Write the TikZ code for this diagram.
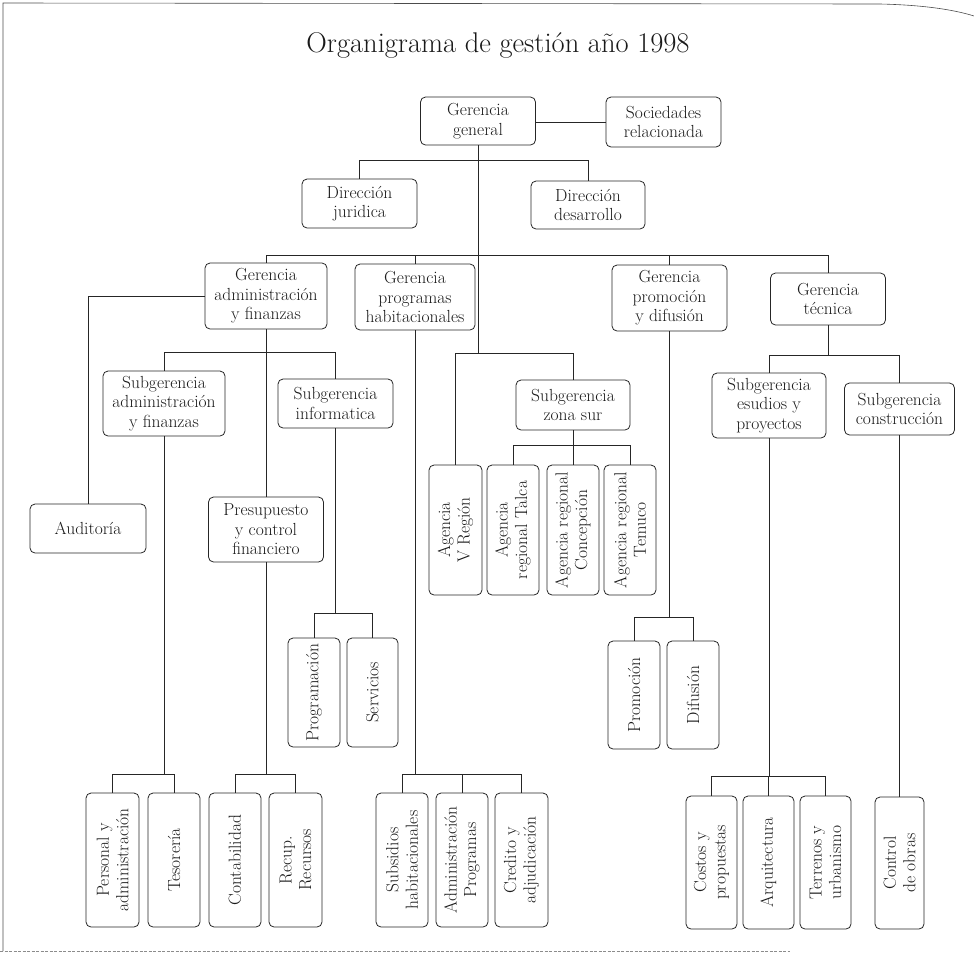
\documentclass[tikz,border=0pt]{standalone}
\newcommand\boxfont{\fontsize{17.5}{19.5}\selectfont}
\newcommand\titlefont{\fontsize{28.5}{32}\selectfont}
\tikzset{
  box/.style={draw=black!85, line width=0.8pt, rounded corners=5pt, align=center, inner sep=1pt, font=\boxfont, text=black!90},
  vtext/.style={rotate=90, align=center, inner sep=0pt, font=\boxfont, text=black!90},
  link/.style={draw=black!85, line width=0.8pt},
  framel/.style={draw=black!70, line width=0.6pt},
}
\newcommand\vbx[6]{%
  \node[box, minimum width=#4, minimum height=#5] (#1) at (#2,#3) {};
  \node[vtext] (#1t) at (#1.center) {#6};}
\begin{document}
\begin{tikzpicture}[x=1pt,y=-1pt]
\useasboundingbox (0,0) rectangle (974,954);
% frame
\draw[framel] (3,951) -- (3,3) -- (880,4) .. controls (925,5) and (955,10) .. (974,16);
\draw[draw=black!45, line width=0.5pt, dash pattern=on 3pt off 1.5pt] (0,951) -- (790,951);
% title
\node[anchor=base, font=\titlefont, text=black!90] (title) at (498,52) {Organigrama de gestión año 1998};
% horizontal boxes
\node[box, minimum width=115, minimum height=48] (GG) at (478,121) {Gerencia\\general};
\node[box, minimum width=115, minimum height=50] (SR) at (663.5,122) {Sociedades\\relacionada};
\node[box, minimum width=115, minimum height=49] (DJ) at (359.5,203.5) {Dirección\\juridica};
\node[box, minimum width=114, minimum height=48] (DD) at (588,205) {Dirección\\desarrollo};
\node[box, minimum width=122, minimum height=66] (GAF) at (266,296) {Gerencia\\administración\\y finanzas};
\node[box, minimum width=120, minimum height=66] (GPH) at (415,297) {Gerencia\\programas\\habitacionales};
\node[box, minimum width=115, minimum height=66] (GPD) at (669.5,298) {Gerencia\\promoción\\y difusión};
\node[box, minimum width=115, minimum height=52] (GT) at (828,299) {Gerencia\\técnica};
\node[box, minimum width=122, minimum height=65] (SAF) at (164,403.5) {Subgerencia\\administración\\y finanzas};
\node[box, minimum width=115, minimum height=49] (SI) at (335.5,403.5) {Subgerencia\\informatica};
\node[box, minimum width=114, minimum height=50] (SZS) at (573,405) {Subgerencia\\zona sur};
\node[box, minimum width=114, minimum height=65] (SEP) at (769,405.5) {Subgerencia\\esudios y\\proyectos};
\node[box, minimum width=110, minimum height=52] (SC) at (899.5,409) {Subgerencia\\construcción};
\node[box, minimum width=116, minimum height=49] (AUD) at (88,528.5) {Auditoría};
\node[box, minimum width=115, minimum height=65] (PCF) at (266,529.5) {Presupuesto\\y control\\financiero};
% vertical boxes
\vbx{A1}{455.5}{530}{53}{130}{Agencia\\V Región}
\vbx{A2}{513}{530}{52}{130}{Agencia\\regional Talca}
\vbx{A3}{573}{530}{52}{130}{Agencia regional\\Concepción}
\vbx{A4}{630}{530}{52}{130}{Agencia regional\\Temuco}
\vbx{PRG}{314}{692.5}{52}{109}{Programación}
\vbx{SRV}{372.5}{692.5}{51}{109}{Servicios}
\vbx{PRO}{634}{695}{52}{108}{Promoción}
\vbx{DIF}{693}{695}{52}{108}{Difusión}
\vbx{PER}{112.5}{860}{53}{134}{Personal y\\administración}
\vbx{TES}{174}{860}{52}{134}{Tesorería}
\vbx{CON}{235}{860}{52}{134}{Contabilidad}
\vbx{REC}{295.5}{860}{53}{134}{Recup.\\Recursos}
\vbx{SUB}{402}{860}{52}{134}{Subsidios\\habitacionales}
\vbx{ADM}{462}{860}{52}{134}{Administración\\Programas}
\vbx{CRE}{521.5}{860}{53}{134}{Credito y\\adjudicación}
\vbx{COS}{711.5}{862.5}{51}{133}{Costos y\\propuestas}
\vbx{ARQ}{768.5}{862.5}{51}{133}{Arquitectura}
\vbx{TER}{825.5}{862.5}{51}{133}{Terrenos y\\urbanismo}
\vbx{CTL}{899.5}{863}{49}{132}{Control\\de obras}
% bar levels
\coordinate (b1) at (0,160);
\coordinate (b2) at (0,255);
\coordinate (b3) at (0,353);
\coordinate (b4) at (0,352);
\coordinate (b5) at (0,774);
\coordinate (b6) at (0,613);
\coordinate (b7) at (0,445);
\coordinate (b8) at (0,617);
\coordinate (b9) at (0,355);
\coordinate (b10) at (0,776);
% connectors
\draw[link] (GG.east |- SR.west) -- (SR.west);
\draw[link] (GG.south) -- (GG.south |- b3);
\draw[link] (DJ.north) -- (DJ.north |- b1) -- (DD.north |- b1) -- (DD.north);
\draw[link] (GAF.north) -- (GAF.north |- b2) -- (GT.north |- b2) -- (GT.north);
\draw[link] (GPH.north) -- (GPH.north |- b2);
\draw[link] (GPD.north) -- (GPD.north |- b2);
\draw[link] (A1.north) -- (A1.north |- b3) -- (SZS.north |- b3) -- (SZS.north);
\draw[link] (GAF.west) -| (AUD.north);
\draw[link] (GAF.south) -- (PCF.north);
\draw[link] (SAF.north) -- (SAF.north |- b4) -- (SI.north |- b4) -- (SI.north);
\draw[link] (SAF.south) -- (SAF.south |- b5);
\draw[link] (PER.north) -- (PER.north |- b5) -- (TES.north |- b5) -- (TES.north);
\draw[link] (PCF.south) -- (PCF.south |- b5);
\draw[link] (CON.north) -- (CON.north |- b5) -- (REC.north |- b5) -- (REC.north);
\draw[link] (SI.south) -- (SI.south |- b6);
\draw[link] (PRG.north) -- (PRG.north |- b6) -- (SRV.north |- b6) -- (SRV.north);
\draw[link] (GPH.south) -- (GPH.south |- b5);
\draw[link] (SUB.north) -- (SUB.north |- b5) -- (CRE.north |- b5) -- (CRE.north);
\draw[link] (ADM.north) -- (ADM.north |- b5);
\draw[link] (SZS.south) -- (SZS.south |- b7);
\draw[link] (A2.north) -- (A2.north |- b7) -- (A4.north |- b7) -- (A4.north);
\draw[link] (A3.north) -- (A3.north |- b7);
\draw[link] (GPD.south) -- (GPD.south |- b8);
\draw[link] (PRO.north) -- (PRO.north |- b8) -- (DIF.north |- b8) -- (DIF.north);
\draw[link] (GT.south) -- (GT.south |- b9);
\draw[link] (SEP.north) -- (SEP.north |- b9) -- (SC.north |- b9) -- (SC.north);
\draw[link] (SEP.south) -- (SEP.south |- b10);
\draw[link] (COS.north) -- (COS.north |- b10) -- (TER.north |- b10) -- (TER.north);
\draw[link] (ARQ.north) -- (ARQ.north |- b10);
\draw[link] (SC.south) -- (CTL.north);
\end{tikzpicture}
\end{document}
